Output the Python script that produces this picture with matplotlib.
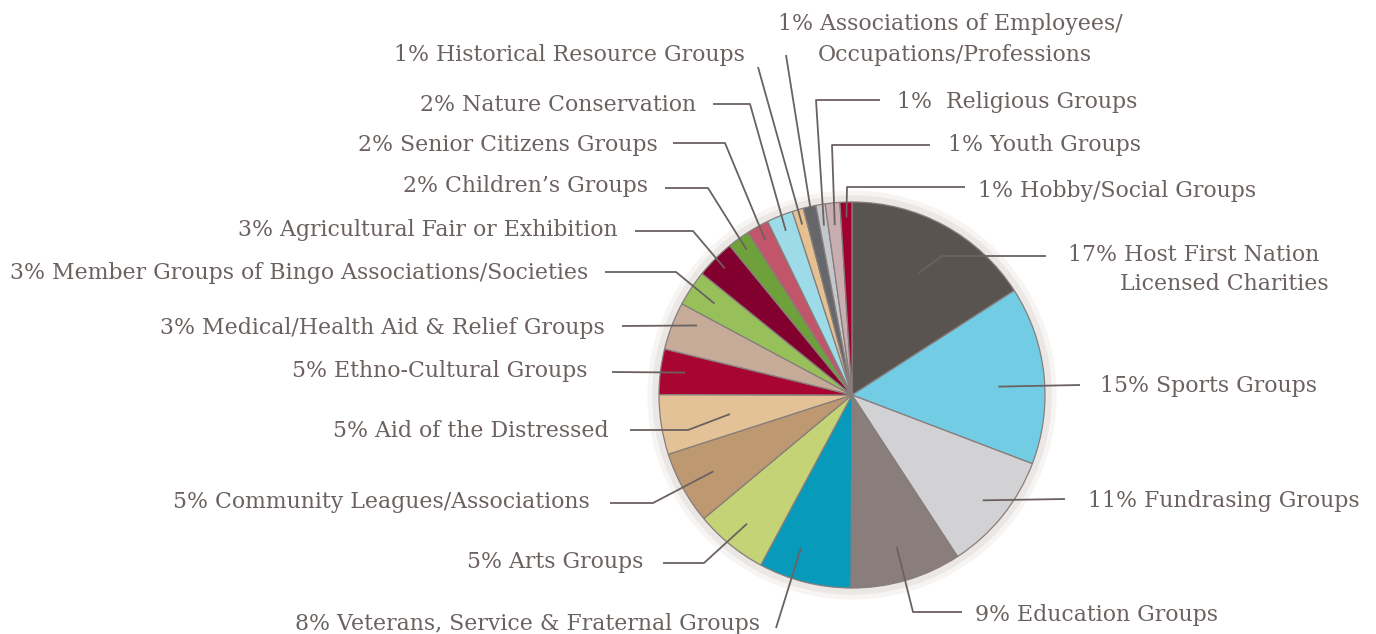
# Pie chart of charity group shares with leader-line labels

import numpy as np
from matplotlib import pyplot as plt
from matplotlib.patches import Circle

# DATA (slice sizes, label text as printed)
groups = [
    "Host First Nation\nLicensed Charities", "Sports Groups", "Fundrasing Groups",
    "Education Groups", "Veterans, Service & Fraternal Groups", "Arts Groups",
    "Community Leagues/Associations", "Aid of the Distressed", "Ethno-Cultural Groups",
    "Medical/Health Aid & Relief Groups", "Member Groups of Bingo Associations/Societies",
    "Agricultural Fair or Exhibition", "Children\u2019s Groups", "Senior Citizens Groups",
    "Nature Conservation", "Historical Resource Groups",
    "Associations of Employees/\nOccupations/Professions", " Religious Groups",
    "Youth Groups", "Hobby/Social Groups",
]
shares = [15.9, 14.9, 10.0, 9.3, 7.75, 6.1, 6.1, 5.0, 3.8, 4.0,
          3.0, 3.25, 1.86, 1.86, 2.2, 0.94, 1.06, 0.78, 1.22, 1.0]
label_pct = [17, 15, 11, 9, 8, 5, 5, 5, 5, 3, 3, 3, 2, 2, 2, 1, 1, 1, 1, 1]
colors = ["#5a5451", "#72cce4", "#d2d2d4", "#8a7e7d", "#079abb", "#c5d377",
          "#bd9871", "#e2c296", "#a80532", "#c6ac98", "#98c05a", "#82002d",
          "#6fa13b", "#c1566b", "#9ddbe8", "#e5c090", "#65676b", "#c4c8cc",
          "#c8aeb0", "#a00030"]

# LAYOUT (pixels of the 1376x634 image)
W, H = 1376, 634
CX, CY, R = 852, 395, 193
TEXT = "#6b6260"
FS = 15.8

# per label: anchor radius, anchor position within wedge, leader waypoints,
# text x, text baseline(s), alignment
layout = [
    (0.72, 0.5, [(942, 256), (1046, 256)], 1068, [261, 290], "left"),
    (0.76, 0.55, [(1080, 385)], 1100, [392], "left"),
    (0.87, 0.5, [(1065, 499)], 1088, [507], "left"),
    (0.82, 0.5, [(913, 612), (962, 612)], 975, [621], "left"),
    (0.835, 0.65, [(776, 628)], 760, [630], "right"),
    (0.86, 0.5, [(704, 563), (663, 563)], 643, [568], "right"),
    (0.82, 0.5, [(653, 503), (610, 503)], 590, [508], "right"),
    (0.64, 0.5, [(688, 430), (630, 430)], 609, [437], "right"),
    (0.873, 0.55, [(612, 372)], 587, [377], "right"),
    (0.88, 0.72, [(622, 326)], 605, [334], "right"),
    (0.855, 0.5, [(676, 272), (605, 272)], 588, [279], "right"),
    (0.93, 0.5, [(693, 231), (635, 231)], 618, [236], "right"),
    (0.93, 0.5, [(708, 188), (665, 188)], 648, [192], "right"),
    (0.92, 0.5, [(725, 143), (673, 143)], 658, [151], "right"),
    (0.917, 0.5, [(750, 104), (713, 104)], 696, [111], "right"),
    (0.92, 0.5, [(758, 67)], 745, [61], "right"),
    (0.95, 0.5, [(786, 55)], 778, [30, 61], "left"),
    (0.89, 0.5, [(816, 100), (880, 100)], 897, [108], "left"),
    (0.885, 0.5, [(832, 145), (930, 145)], 948, [151], "left"),
    (0.92, 0.5, [(847, 187), (965, 187)], 978, [197], "left"),
]
second_line_x = {0: 1120, 16: 818}


def px(x, y):
    return (x - CX) / R, (CY - y) / R


plt.rcParams["font.family"] = ["DejaVu Serif"]
fig = plt.figure(figsize=(W / 100, H / 100), dpi=100)
ax = fig.add_axes([0, 0, 1, 1])

ax.add_patch(Circle((0, 0), 1.06, facecolor="#f7f5f4", edgecolor="none", zorder=0))
ax.add_patch(Circle((0, 0), 1.035, facecolor="#ebe7e4", edgecolor="none", zorder=0))

wedges, _ = ax.pie(shares, colors=colors, startangle=90, counterclock=False,
                   radius=1, wedgeprops=dict(edgecolor="#877d7b", linewidth=0.9))

for i, w in enumerate(wedges):
    r, f, pts, tx, bases, ha = layout[i]
    # wedge runs clockwise from theta2 to theta1
    ang = np.deg2rad(w.theta2 - f * (w.theta2 - w.theta1))
    xs = [r * np.cos(ang)] + [px(*p)[0] for p in pts]
    ys = [r * np.sin(ang)] + [px(*p)[1] for p in pts]
    ax.plot(xs, ys, color=TEXT, lw=1.3, zorder=5, solid_capstyle="butt")

    lines = groups[i].split("\n")
    first = f"{label_pct[i]}% {lines[0]}"
    x, y = px(tx, bases[0])
    ax.text(x, y, first, ha=ha, va="baseline", color=TEXT, fontsize=FS)
    if len(lines) > 1:
        x2, y2 = px(second_line_x[i], bases[1])
        ax.text(x2, y2, lines[1], ha="left", va="baseline", color=TEXT, fontsize=FS)

ax.set_xlim(-CX / R, (W - CX) / R)
ax.set_ylim(-(H - CY) / R, CY / R)
ax.axis("off")

plt.savefig("out.png", dpi=100)
